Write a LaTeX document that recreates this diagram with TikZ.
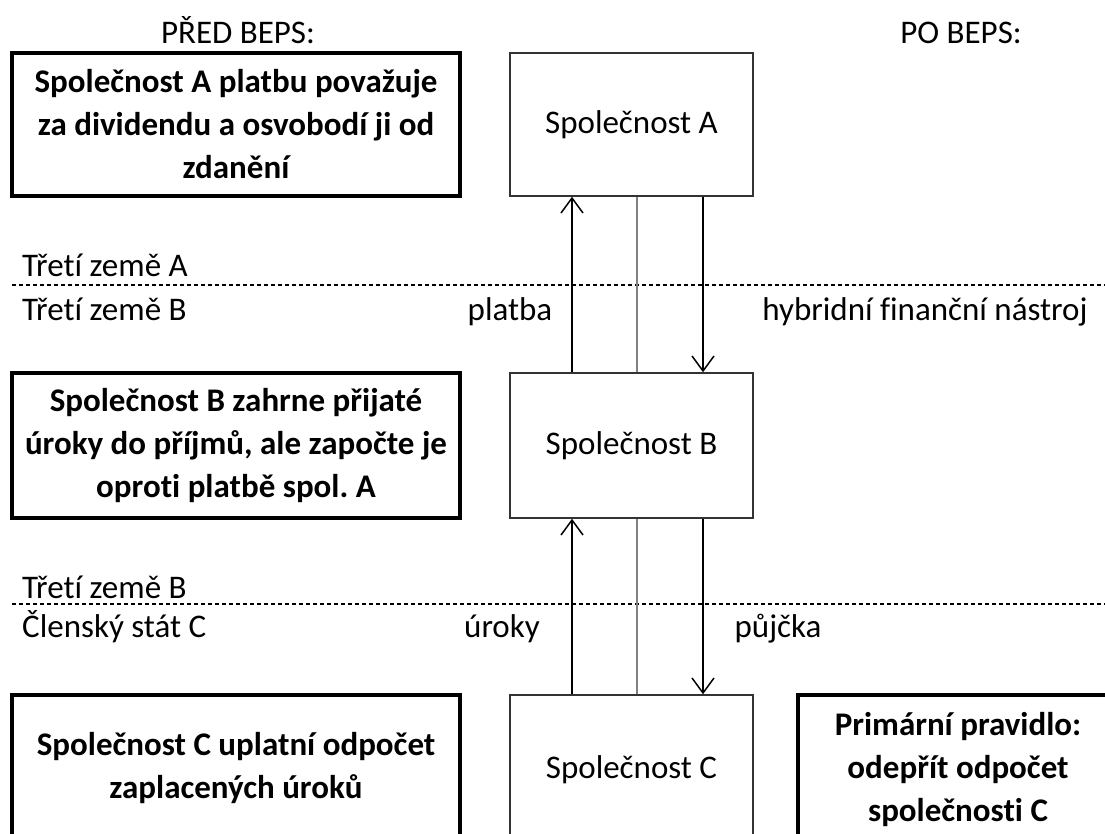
\documentclass[tikz,border=0pt]{standalone}
\usepackage{fontspec}
\setmainfont[Ligatures={NoCommon}]{Carlito}
\usetikzlibrary{arrows.meta}
\frenchspacing
\begin{document}
\begin{tikzpicture}[x=1pt,y=-1pt,
 thickbox/.style={draw=black, line width=3.5pt, minimum width=448pt, align=center, font=\bfseries\fontsize{33}{43}\selectfont, inner sep=0pt},
 company/.style={draw=black!80, line width=1.5pt, minimum width=243pt, align=center, font=\fontsize{33}{43}\selectfont},
 lbl/.style={font=\fontsize{33}{36}\selectfont, inner sep=0pt},
 arr/.style={line width=1.5pt, -{Straight Barb[length=15pt,width=22pt]}},
 sep/.style={dash pattern=on 4pt off 3pt, line width=1.2pt},
 mid/.style={draw=gray, line width=2pt}
]
\useasboundingbox (0,0) rectangle (1105,834);
\clip (0,0) rectangle (1105,834);
\fill[white] (0,0) rectangle (1105,834);

\node[lbl] (pred) at (238,30) {PŘED BEPS:};
\node[lbl, anchor=base] (po) at (pred.base -| 961,0) {PO BEPS:};

\node[thickbox, minimum height=143pt] (la) at (236,124.5) {Společnost A platbu považuje\\za dividendu a osvobodí ji od\\zdanění};
\node[company, minimum height=143pt] (A) at (631.5,124.5) {Společnost A};

\node[thickbox, minimum height=145pt] (lb) at (236,445.5) {Společnost B zahrne přijaté\\úroky do příjmů, ale započte je\\oproti platbě spol. A};
\node[company, minimum height=145pt] (B) at (631.5,445.5) {Společnost B};

\node[thickbox, minimum height=146pt] (lc) at (236,768) {Společnost C uplatní odpočet\\zaplacených úroků};
\node[company, minimum height=150pt] (C) at (631.5,770) {Společnost C};
\node[thickbox, minimum width=320pt, minimum height=150pt] (rc) at (958,770) {Primární pravidlo:\\odepřít odpočet\\společnosti C};

\coordinate (xpl) at (510,0);
\coordinate (xhy) at (925,0);
\coordinate (xur) at (502,0);
\coordinate (xpu) at (778,0);

\node[lbl, anchor=west] (t1) at (22,265) {Třetí země A};
\node[lbl, anchor=west] (t2) at (22,309) {Třetí země B};
\node[lbl, anchor=base] (platba) at (t2.base -| xpl) {platba};
\node[lbl, anchor=base] (hyb) at (t2.base -| xhy) {hybridní finanční nástroj};
\node[lbl, anchor=west] (t3) at (22,587) {Třetí země B};
\node[lbl, anchor=west] (t4) at (22,627) {Členský stát C};
\node[lbl, anchor=base] (uroky) at (t4.base -| xur) {úroky};
\node[lbl, anchor=base] (pujcka) at (t4.base -| xpu) {půjčka};

\coordinate (d1l) at (12,285); \coordinate (d1r) at (1105,285);
\coordinate (d2l) at (12,604); \coordinate (d2r) at (1105,604);
\draw[sep] (d1l) -- (d1r);
\draw[sep] (d2l) -- (d2r);

\coordinate (xu) at (572,0); \coordinate (xm) at (637,0); \coordinate (xd) at (703,0);
\draw[arr] (B.north -| xu) -- (A.south -| xu);
\draw[mid] (A.south -| xm) -- (B.north -| xm);
\draw[arr] (A.south -| xd) -- (B.north -| xd);
\draw[arr] (C.north -| xu) -- (B.south -| xu);
\draw[mid] (B.south -| xm) -- (C.north -| xm);
\draw[arr] (B.south -| xd) -- (C.north -| xd);
\end{tikzpicture}
\end{document}
